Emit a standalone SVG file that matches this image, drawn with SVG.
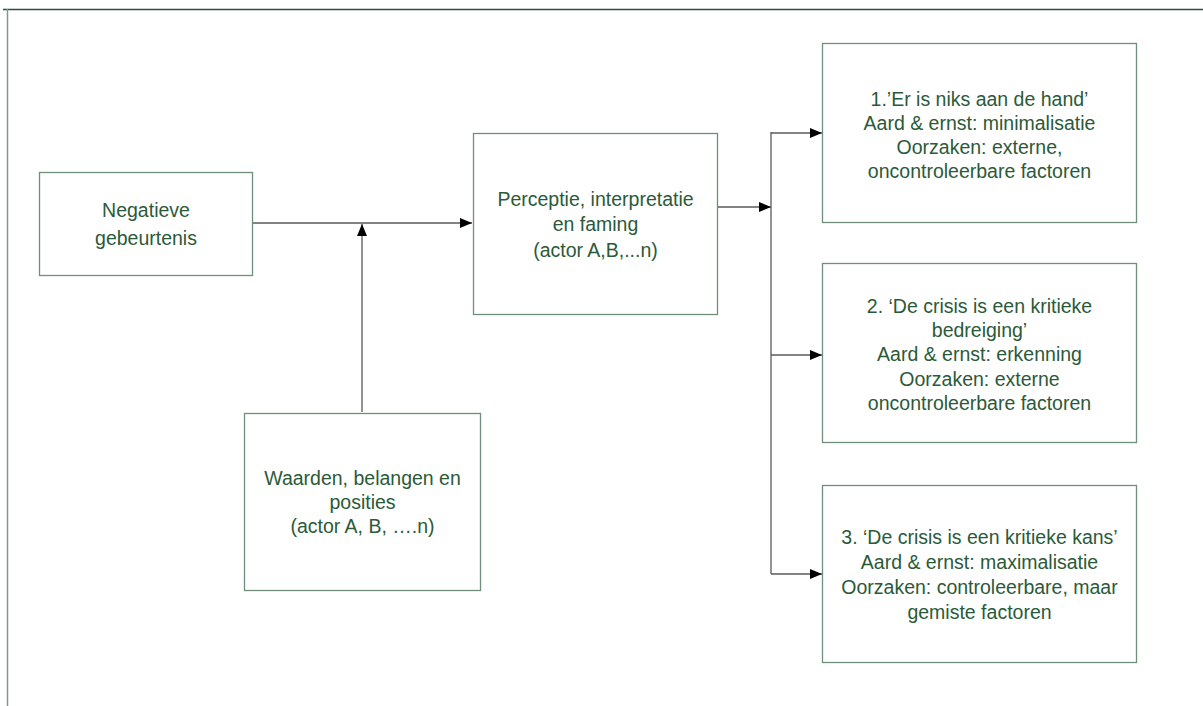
<svg xmlns="http://www.w3.org/2000/svg" width="1203" height="706" viewBox="0 0 1203 706">
<defs>
<marker id="arr" viewBox="0 0 12 10" refX="12" refY="5" markerWidth="12" markerHeight="10" markerUnits="userSpaceOnUse" orient="auto">
<path d="M0,0 L12,5 L0,10 z" fill="#000"/>
</marker>
<style>
.box{fill:#fff;stroke:#6f8f7a;stroke-width:1.3}
.t{font-family:"Liberation Sans",Arial,sans-serif;font-size:19.5px;fill:#2b5a39;text-anchor:middle}
.c{fill:none;stroke:#5a5a5a;stroke-width:1.3}
</style>
</defs>
<rect width="1203" height="706" fill="#fff"/>
<g id="frame">
<line x1="3" y1="9.5" x2="1203" y2="9.5" stroke="#2f4a3a" stroke-width="1.3"/>
<line x1="7.5" y1="9" x2="7.5" y2="706" stroke="#7f9a88" stroke-width="1.5"/>
</g>
<g id="connectors">
<line class="c" x1="253" y1="223" x2="472" y2="223" marker-end="url(#arr)"/>
<line class="c" x1="362" y1="412" x2="362" y2="224" marker-end="url(#arr)"/>
<line class="c" x1="718" y1="207" x2="771" y2="207" marker-end="url(#arr)" stroke="#222"/>
<line class="c" x1="771" y1="132" x2="771" y2="574"/>
<line class="c" x1="771" y1="133" x2="822" y2="133" marker-end="url(#arr)"/>
<line class="c" x1="771" y1="355" x2="822" y2="355" marker-end="url(#arr)"/>
<line class="c" x1="771" y1="574" x2="822" y2="574" marker-end="url(#arr)"/>
</g>
<g id="n1">
<rect class="box" x="39.5" y="172.5" width="213" height="103"/>
<text class="t" x="146" y="217">Negatieve</text>
<text class="t" x="146" y="245">gebeurtenis</text>
</g>
<g id="n2">
<rect class="box" x="473.5" y="133.5" width="244" height="181"/>
<text class="t" x="595.5" y="206">Perceptie, interpretatie</text>
<text class="t" x="595.5" y="231">en faming</text>
<text class="t" x="595.5" y="257">(actor A,B,...n)</text>
</g>
<g id="n3">
<rect class="box" x="244.5" y="413.5" width="236" height="177"/>
<text class="t" x="362.5" y="485">Waarden, belangen en</text>
<text class="t" x="362.5" y="509">posities</text>
<text class="t" x="362.5" y="533">(actor A, B, ….n)</text>
</g>
<g id="n4">
<rect class="box" x="822.5" y="43.5" width="314" height="179"/>
<text class="t" x="979.5" y="106">1.’Er is niks aan de hand’</text>
<text class="t" x="979.5" y="130">Aard &amp; ernst: minimalisatie</text>
<text class="t" x="979.5" y="154">Oorzaken: externe,</text>
<text class="t" x="979.5" y="178">oncontroleerbare factoren</text>
</g>
<g id="n5">
<rect class="box" x="822.5" y="263.5" width="314" height="179"/>
<text class="t" x="979.5" y="313">2. ‘De crisis is een kritieke</text>
<text class="t" x="979.5" y="337">bedreiging’</text>
<text class="t" x="979.5" y="361">Aard &amp; ernst: erkenning</text>
<text class="t" x="979.5" y="386">Oorzaken: externe</text>
<text class="t" x="979.5" y="410">oncontroleerbare factoren</text>
</g>
<g id="n6">
<rect class="box" x="822.5" y="485.5" width="314" height="177"/>
<text class="t" x="979.5" y="544">3. ‘De crisis is een kritieke kans’</text>
<text class="t" x="979.5" y="569">Aard &amp; ernst: maximalisatie</text>
<text class="t" x="979.5" y="594">Oorzaken: controleerbare, maar</text>
<text class="t" x="979.5" y="619">gemiste factoren</text>
</g>
</svg>
